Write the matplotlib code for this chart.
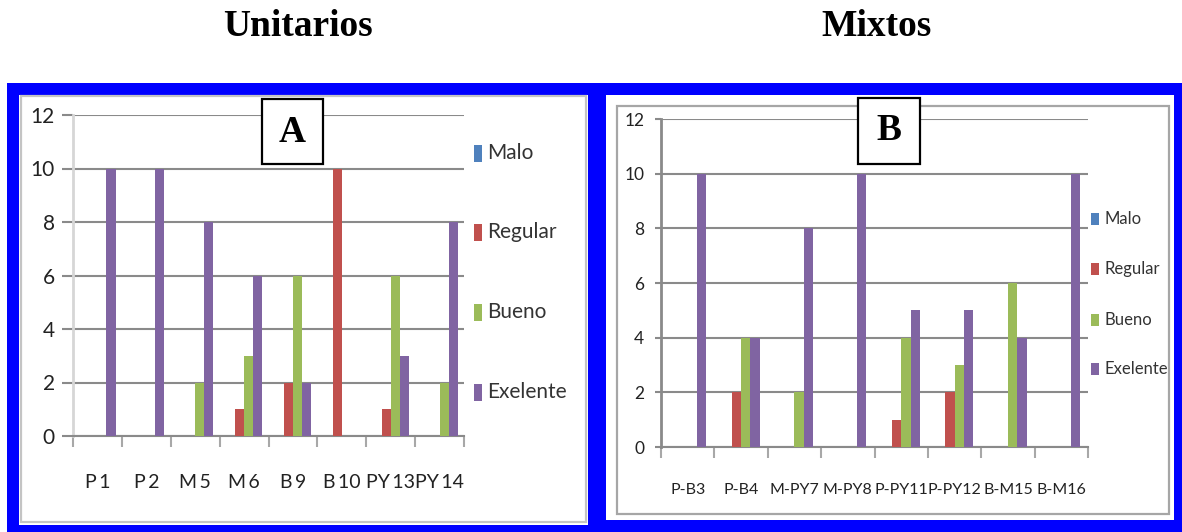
import matplotlib
matplotlib.use("Agg")
import matplotlib.pyplot as plt
import numpy as np
from matplotlib.patches import Rectangle

# Datos de los dos graficos (Unitarios / Mixtos)
series = ["Malo", "Regular", "Bueno", "Exelente"]
colores = ["#4F81BD", "#C0504D", "#9BBB59", "#8064A2"]

catUnitarios = ["P\u20091", "P\u20092", "M\u20095", "M\u20096", "B\u20099", "B\u200910", "PY\u200913", "PY\u200914"]
maloA = [0, 0, 0, 0, 0, 0, 0, 0]
regularA = [0, 0, 0, 1, 2, 10, 1, 0]
buenoA = [0, 0, 2, 3, 6, 0, 6, 2]
exelenteA = [10, 10, 8, 6, 2, 0, 3, 8]

catMixtos = ["P-B3", "P-B4", "M-PY7", "M-PY8", "P-PY11", "P-PY12", "B-M15", "B-M16"]
maloB = [0, 0, 0, 0, 0, 0, 0, 0]
regularB = [0, 2, 0, 0, 1, 2, 0, 0]
buenoB = [0, 4, 2, 0, 4, 3, 6, 0]
exelenteB = [10, 4, 8, 10, 5, 5, 4, 10]

yTicks = [0, 2, 4, 6, 8, 10, 12]

W, H = 1182, 532
fig = plt.figure(figsize=(W / 100, H / 100), dpi=100)
fig.patch.set_facecolor("white")


def px(x, y):
    # pixeles (origen arriba a la izquierda) -> coordenadas de figura
    return x / W, 1 - y / H


def rect(x0, y0, x1, y1, **kw):
    a, b = px(x0, y1)
    r = Rectangle((a, b), (x1 - x0) / W, (y1 - y0) / H, transform=fig.transFigure, **kw)
    fig.patches.append(r)
    return r


def caja(x0, y0, x1, y1):
    return px(x0, y1) + ((x1 - x0) / W, (y1 - y0) / H)


# Marco azul y los dos recuadros blancos
rect(7, 83, 1182, 532, facecolor="#0000FF", edgecolor="none", zorder=-3)
rect(19, 95, 588, 525, facecolor="white", edgecolor="none", zorder=-2)
rect(21, 96, 586, 522, facecolor="none", edgecolor="#C4C4C4", lw=1.6, zorder=-1)
rect(606, 95, 1174, 520, facecolor="white", edgecolor="none", zorder=-2)
rect(617, 106, 1169, 514, facecolor="none", edgecolor="#A6A6A6", lw=1.6, zorder=-1)

fuente = ["Lato", "DejaVu Sans"]


def graficar(ax, categorias, valores, ancho, tamY, tamX, ejeColor, pad, largoTick, padX):
    x = np.arange(len(categorias))
    for i, (vals, col) in enumerate(zip(valores, colores)):
        ax.bar(x + (i - 1.5) * ancho, vals, ancho, color=col, zorder=3)
    ax.set_xlim(-0.5, len(categorias) - 0.5)
    ax.set_ylim(0, 12)
    ax.set_facecolor("none")
    ax.set_yticks(yTicks)
    ax.set_yticklabels([str(t) for t in yTicks], family=fuente, fontsize=tamY, color="#222222")
    ax.yaxis.grid(True, color="#8A8A8A", lw=1.5, zorder=1)
    ax.tick_params(axis="y", length=largoTick, width=1.5, color="#8A8A8A", pad=pad)
    ax.set_xticks(x)
    ax.set_xticklabels(categorias, family=fuente, fontsize=tamX, color="#222222")
    ax.set_xticks(np.arange(len(categorias) + 1) - 0.5, minor=True)
    ax.tick_params(axis="x", which="major", length=0, pad=padX)
    ax.tick_params(axis="x", which="minor", length=8, width=1.5, color="#A8A8A8")
    for lado in ["top", "right"]:
        ax.spines[lado].set_visible(False)
    ax.spines["bottom"].set_color("#8A8A8A")
    ax.spines["bottom"].set_linewidth(1.5)
    ax.spines["left"].set_color(ejeColor)
    ax.spines["left"].set_linewidth(2)


axA = fig.add_axes(caja(73, 115, 464, 436))
graficar(axA, catUnitarios, [maloA, regularA, buenoA, exelenteA], 0.185,
         15, 14, "#D6D6D6", 5, 8, 27)

axB = fig.add_axes(caja(661, 119, 1088, 447))
graficar(axB, catMixtos, [maloB, regularB, buenoB, exelenteB], 0.175,
         12.5, 11.5, "#8A8A8A", 8, 4, 26)


# Leyendas hechas a mano para poder separar las entradas
def leyenda(xMarca, ys, anchoM, altoM, tam):
    for nombre, col, y in zip(series, colores, ys):
        rect(xMarca, y - altoM / 2, xMarca + anchoM, y + altoM / 2,
             facecolor=col, edgecolor="none", zorder=2)
        fx, fy = px(xMarca + anchoM + 5, y)
        fig.text(fx, fy, nombre, family=fuente, fontsize=tam, color="#333333",
                 ha="left", va="center")


leyenda(474, [153, 232, 312, 392], 8, 17, 15)
leyenda(1091, [219, 269, 320, 369], 8, 12, 12)

# Recuadros con las letras A y B
rect(262, 99, 323, 164, facecolor="white", edgecolor="black", lw=1.6, zorder=5)
fig.text(*px(292.5, 132), "A", family="Liberation Serif", weight="bold",
         fontsize=27, ha="center", va="center", zorder=6)
rect(858, 98, 920, 164, facecolor="white", edgecolor="black", lw=1.6, zorder=5)
fig.text(*px(889, 131), "B", family="Liberation Serif", weight="bold",
         fontsize=27, ha="center", va="center", zorder=6)

# Titulos
fig.text(*px(298, 27), "Unitarios", family="Liberation Serif", weight="bold",
         fontsize=27, ha="center", va="center")
fig.text(*px(876, 27), "Mixtos", family="Liberation Serif", weight="bold",
         fontsize=27, ha="center", va="center")

fig.savefig("out.png", dpi=100)
